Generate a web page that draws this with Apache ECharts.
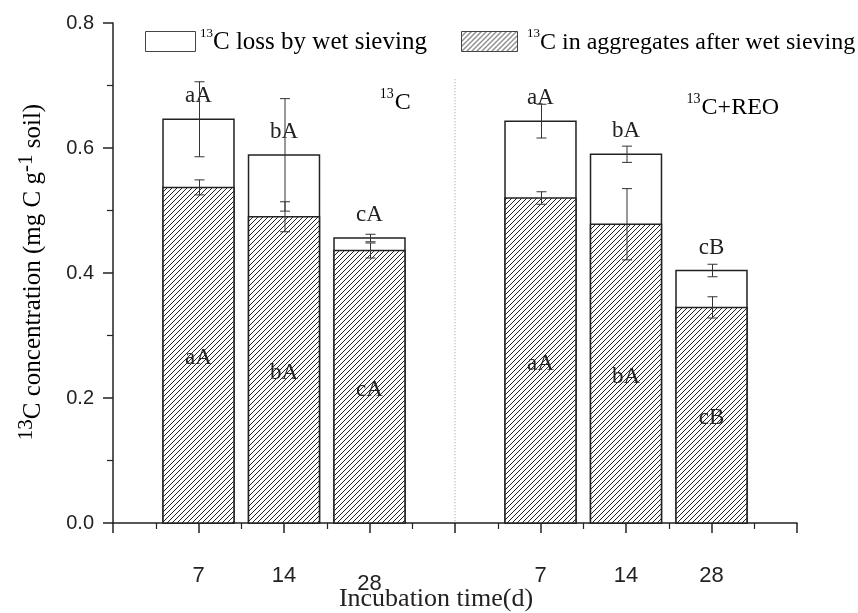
<!DOCTYPE html>
<html>
<head>
<meta charset="utf-8">
<script src="https://cdn.jsdelivr.net/npm/echarts@6/dist/echarts.min.js"></script>
<style>
html,body{margin:0;padding:0;background:#fff;}
#chart{width:858px;height:613px;}
</style>
</head>
<body>
<div id="chart"></div>
<script>
// ---- data ----
const groupNames = ['13C', '13C+REO'];
const days = ['7', '14', '28', '7', '14', '28'];
const aggregates = [0.537, 0.490, 0.436, 0.520, 0.478, 0.345];
const totals = [0.646, 0.589, 0.456, 0.643, 0.590, 0.404];
const totalErr = [0.060, 0.090, 0.006, 0.027, 0.013, 0.010];
const aggErr = [0.012, 0.024, 0.012, 0.010, 0.057, 0.017];
const topLetters = ['aA', 'bA', 'cA', 'aA', 'bA', 'cB'];
const innerLetters = ['aA', 'bA', 'cA', 'aA', 'bA', 'cB'];
const yTicks = ['0.0', '0.2', '0.4', '0.6', '0.8'];

// slot on the x axis: three days per group, an empty slot between groups
function slotOf(i) { return i < 3 ? i + 1 : i + 2; }

// hatch pattern
function makeHatch() {
  const s = 5;
  const c = document.createElement('canvas');
  c.width = s; c.height = s;
  const g = c.getContext('2d');
  g.fillStyle = '#fff';
  g.fillRect(0, 0, s, s);
  g.strokeStyle = '#222';
  g.lineWidth = 1;
  g.beginPath();
  g.moveTo(-1, s + 1); g.lineTo(s + 1, -1);
  g.moveTo(-1 - s, s + 1); g.lineTo(1, -1);
  g.moveTo(s - 1, s + 1); g.lineTo(2 * s + 1, -1);
  g.stroke();
  return c;
}
const hatchImg = makeHatch();
const hatch = { image: hatchImg, repeat: 'repeat' };

const serif = 'Liberation Serif';
const sans = 'Liberation Sans';

const chart = echarts.init(document.getElementById('chart'), null, { renderer: 'canvas' });

const barData = totals.map((t, i) => [slotOf(i), t, aggregates[i], totalErr[i], aggErr[i], i]);

function errBar(api, x, v, e, capW, dx) {
  const p1 = api.coord([x, v + e]);
  const p2 = api.coord([x, v - e]);
  const st = { stroke: '#333', lineWidth: 1, fill: null };
  const cx = p1[0] + dx;
  return [
    { type: 'line', shape: { x1: cx, y1: p1[1], x2: cx, y2: p2[1] }, style: st },
    { type: 'line', shape: { x1: cx - capW / 2, y1: p1[1], x2: cx + capW / 2, y2: p1[1] }, style: st },
    { type: 'line', shape: { x1: cx - capW / 2, y1: p2[1], x2: cx + capW / 2, y2: p2[1] }, style: st }
  ];
}

function renderBar(params, api) {
  const x = api.value(0);
  const tot = api.value(1);
  const agg = api.value(2);
  const te = api.value(3);
  const ae = api.value(4);
  const idx = api.value(5);
  const w = api.size([0.83, 0])[0];
  const base = api.coord([x, 0]);
  const pt = api.coord([x, tot]);
  const pa = api.coord([x, agg]);
  const left = base[0] - w / 2;
  const children = [
    { type: 'rect', shape: { x: left, y: pt[1], width: w, height: base[1] - pt[1] },
      style: { fill: '#fff', stroke: '#222', lineWidth: 1.5 } },
    { type: 'rect', shape: { x: left, y: pa[1], width: w, height: base[1] - pa[1] },
      style: { fill: hatch, stroke: '#222', lineWidth: 1.5 } },
    { type: 'text', x: base[0], y: pt[1] - 23,
      style: { text: topLetters[idx], font: '23px "' + serif + '"', fill: '#222', align: 'center', verticalAlign: 'middle' } },
    { type: 'text', x: base[0], y: (pa[1] + base[1]) / 2 + 3,
      style: { text: innerLetters[idx], font: '23px "' + serif + '"', fill: '#222', align: 'center', verticalAlign: 'middle' } }
  ];
  return { type: 'group', children: children.concat(errBar(api, x, tot, te, 10, 1), errBar(api, x, agg, ae, 10, 1)) };
}

const xLabelMap = {};
for (let i = 0; i < days.length; i++) xLabelMap[slotOf(i)] = { text: days[i], i: i };

const option = {
  animation: false,
  backgroundColor: '#fff',
  grid: { left: 113, right: 61, top: 23, bottom: 90, containLabel: false },
  xAxis: {
    type: 'value', min: 0, max: 8, interval: 1,
    axisLine: { show: true, lineStyle: { color: '#222', width: 1.5 } },
    axisTick: { show: true, inside: false, length: 10, lineStyle: { color: '#222', width: 1.5 } },
    minorTick: { show: true, splitNumber: 2, length: 6, lineStyle: { color: '#222', width: 1.2 } },
    splitLine: { show: false },
    axisLabel: {
      margin: 42,
      fontFamily: sans,
      fontSize: 22, color: '#222',
      formatter: function (v) {
        const m = xLabelMap[Math.round(v)];
        if (!m) return '';
        if (m.i === 2) return '{low|' + m.text + '}';
        if (m.i === 1 || m.i === 4) return '{hi|' + m.text + '}';
        return m.text;
      },
      rich: {
        low: { fontFamily: sans, fontSize: 22, color: '#222', padding: [8, 0, 0, 0] },
        hi: { fontFamily: sans, fontSize: 22, color: '#222', padding: [0, 0, 5, 0] }
      }
    }
  },
  yAxis: {
    type: 'value', min: 0, max: 0.8, interval: 0.2,
    axisLine: { show: true, lineStyle: { color: '#222', width: 1.5 } },
    axisTick: { show: true, inside: false, length: 10, lineStyle: { color: '#222', width: 1.5 } },
    minorTick: { show: true, splitNumber: 2, length: 6, lineStyle: { color: '#222', width: 1.2 } },
    splitLine: { show: false },
    axisLabel: {
      margin: 19, fontFamily: sans, fontSize: 20, color: '#222',
      formatter: function (v) { return yTicks[Math.round(v / 0.2)]; }
    }
  },
  series: [
    {
      type: 'line', data: [[4, 0.71], [4, 0]], symbol: 'none', silent: true,
      lineStyle: { color: '#999', width: 1, type: [1, 2] }, z: 1
    },
    {
      type: 'custom', renderItem: renderBar, data: barData,
      encode: { x: 0, y: 1 }, z: 2, clip: false
    }
  ]
};
chart.setOption(option);

// annotations & legend
const supRich = {
  n: { fontFamily: serif, fontSize: 25, color: '#222', lineHeight: 28, verticalAlign: 'bottom' },
  n2: { fontFamily: serif, fontSize: 24, color: '#222', lineHeight: 28, verticalAlign: 'bottom' },
  s: { fontFamily: serif, fontSize: 13, color: '#222', lineHeight: 28, verticalAlign: 'top' },
  an: { fontFamily: serif, fontSize: 24, color: '#222', lineHeight: 27, verticalAlign: 'bottom' },
  as: { fontFamily: serif, fontSize: 14, color: '#222', lineHeight: 27, verticalAlign: 'top', padding: [0, 1, 0, 0] },
  ys: { fontFamily: serif, fontSize: 21, color: '#222', lineHeight: 30, verticalAlign: 'top' },
  yn: { fontFamily: serif, fontSize: 25, color: '#222', lineHeight: 30, verticalAlign: 'bottom' }
};
const g1 = chart.convertToPixel({ gridIndex: 0 }, [3.3, 0.675]);
const g2 = chart.convertToPixel({ gridIndex: 0 }, [7.25, 0.667]);
chart.setOption({
  graphic: [
    { type: 'rect', left: 145, top: 31, shape: { width: 50, height: 20 },
      style: { fill: '#fff', stroke: '#444', lineWidth: 1 } },
    { type: 'text', x: 200, y: 41,
      style: { text: '{s|13}{n|C loss by wet sieving}', rich: supRich, verticalAlign: 'middle' } },
    { type: 'rect', left: 461, top: 31, shape: { width: 56, height: 20 },
      style: { fill: hatch, stroke: '#444', lineWidth: 1 } },
    { type: 'text', x: 527, y: 41,
      style: { text: '{s|13}{n2|C in aggregates after wet sieving}', rich: supRich, verticalAlign: 'middle' } },
    { type: 'text', x: g1[0], y: g1[1],
      style: { text: '{as|13}{an|C}', rich: supRich, align: 'center', verticalAlign: 'middle' } },
    { type: 'text', x: g2[0], y: g2[1],
      style: { text: '{as|13}{an|C+REO}', rich: supRich, align: 'center', verticalAlign: 'middle' } },
    { type: 'text', x: 31, y: 272, rotation: Math.PI / 2,
      style: { text: '{ys|13}{yn|C concentration (mg C g}{ys|-1}{yn| soil)}', rich: supRich, align: 'center', verticalAlign: 'middle' } },
    { type: 'text', x: 436, y: 599,
      style: { text: 'Incubation time(d)', font: '26px "' + serif + '"', fill: '#222', align: 'center', verticalAlign: 'middle' } }
  ]
});
</script>
</body>
</html>
